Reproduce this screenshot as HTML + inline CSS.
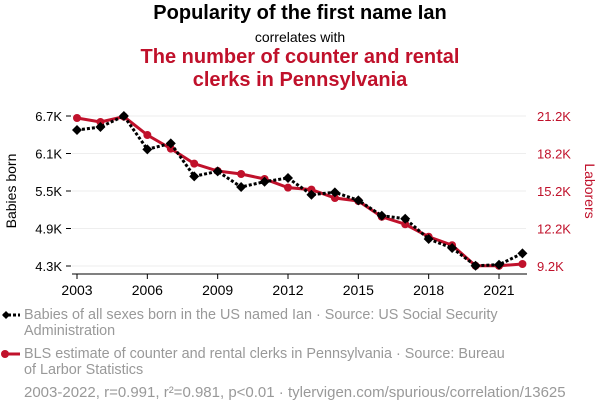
<!DOCTYPE html>
<html><head><meta charset="utf-8"><style>
body{margin:0;width:600px;height:414px;background:#fff;font-family:"Liberation Sans",sans-serif;overflow:hidden;position:relative}
.t{position:absolute;left:0;width:600px;text-align:center}
.leg{position:absolute;left:24px;color:#999;font-size:14.4px;line-height:16px;white-space:nowrap}
</style></head><body>
<div class="t" style="top:2px;font-size:20px;font-weight:bold;color:#000">Popularity of the first name Ian</div>
<div class="t" style="top:29px;font-size:14px;color:#000">correlates with</div>
<div class="t" style="top:46px;font-size:20px;font-weight:bold;color:#c0112b;line-height:23px">The number of counter and rental<br>clerks in Pennsylvania</div>
<svg id="c" width="600" height="414" style="position:absolute;left:0;top:0"></svg>
<div class="leg" style="top:307px">Babies of all sexes born in the US named Ian · Source: US Social Security<br>Administration</div>
<div class="leg" style="top:346px">BLS estimate of counter and rental clerks in Pennsylvania · Source: Bureau<br>of Larbor Statistics</div>
<div class="leg" style="top:385px;left:24px;font-size:15px">2003-2022, r=0.991, r²=0.981, p&lt;0.01 · tylervigen.com/spurious/correlation/13625</div>
<script>
const years=[2003,2004,2005,2006,2007,2008,2009,2010,2011,2012,2013,2014,2015,2016,2017,2018,2019,2020,2021,2022];
const babies=[6476,6524,6700,6167,6263,5735,5815,5564,5649,5708,5441,5479,5351,5105,5057,4732,4588,4305,4321,4503];
const clerks=[21040,20720,21150,19680,18590,17390,16800,16560,16160,15470,15310,14640,14400,13140,12540,11540,10860,9220,9220,9360];
const leftTicks=[4300,4900,5500,6100,6700];
const leftLabels=["4.3K","4.9K","5.5K","6.1K","6.7K"];
const rightTicks=[9200,12200,15200,18200,21200];
const rightLabels=["9.2K","12.2K","15.2K","18.2K","21.2K"];
const xTicks=[2003,2006,2009,2012,2015,2018,2021];
const X=y=>77+(y-2003)*(499-77)/18;
const YL=v=>266-(v-4300)*150/2400;
const YR=v=>266-(v-9200)*150/12000;
const svg=document.getElementById('c');const NS='http://www.w3.org/2000/svg';
function mk(t,a){const e=document.createElementNS(NS,t);for(const k in a)e.setAttribute(k,a[k]);svg.appendChild(e);return e;}
leftTicks.forEach((v,i)=>{
 const g=mk('line',{x1:72,x2:526,y1:YL(v),y2:YL(v),stroke:'#eee','stroke-width':1});
 
 
 const t=mk('text',{x:62,y:YL(v)+5,'text-anchor':'end','font-size':13,fill:'#000'});t.textContent=leftLabels[i];
 
 
 mk('line',{x1:66,x2:71,y1:YL(v),y2:YL(v),stroke:'#000'});
});
rightTicks.forEach((v,i)=>{
 const t=mk('text',{x:537,y:YR(v)+5,'font-size':13,fill:'#c0112b'});t.textContent=rightLabels[i];
 
 
});
mk('line',{x1:72,x2:527,y1:274,y2:274,stroke:'#000'});
xTicks.forEach(y=>{
 mk('line',{x1:X(y),x2:X(y),y1:274,y2:279,stroke:'#000'});
 const t=mk('text',{x:X(y),y:295,'text-anchor':'middle','font-size':14,fill:'#000'});t.textContent=y;
 
 
});
let t=mk('text',{x:16,y:191,'text-anchor':'middle','font-size':14,fill:'#000',transform:'rotate(-90 16 191)'});t.textContent='Babies born';


t=mk('text',{x:585,y:191,'text-anchor':'middle','font-size':14,fill:'#c0112b',transform:'rotate(90 585 191)'});t.textContent='Laborers';


let p=mk('polyline',{points:years.map((y,i)=>X(y)+','+YR(clerks[i])).join(' '),fill:'none',stroke:'#c0112b','stroke-width':3});


years.forEach((y,i)=>{const c=mk('circle',{cx:X(y),cy:YR(clerks[i]),r:4,fill:'#c0112b'});
 
 });
p=mk('polyline',{points:years.map((y,i)=>X(y)+','+YL(babies[i])).join(' '),fill:'none',stroke:'#000','stroke-width':3,'stroke-dasharray':'3,2'});


years.forEach((y,i)=>{const x=X(y),yy=YL(babies[i]);const d=mk('polygon',{points:`${x},${yy-5} ${x+5},${yy} ${x},${yy+5} ${x-5},${yy}`,fill:'#000'});
 
 });
mk('line',{x1:3,x2:20,y1:315,y2:315,stroke:'#000','stroke-width':3,'stroke-dasharray':'3,2'});
mk('polygon',{points:'6,311 10,315 6,319 2,315',fill:'#000'});
mk('line',{x1:3,x2:20,y1:354,y2:354,stroke:'#c0112b','stroke-width':3});
mk('circle',{cx:5,cy:354,r:4,fill:'#c0112b'});
</script>
</body></html>
